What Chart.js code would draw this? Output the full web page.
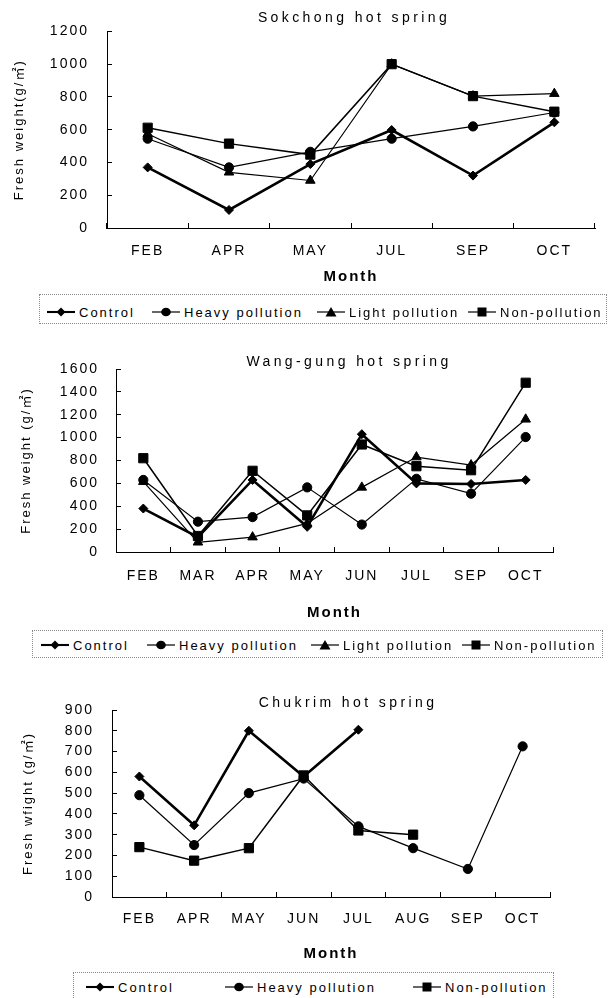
<!DOCTYPE html>
<html>
<head>
<meta charset="utf-8">
<script src="https://cdn.jsdelivr.net/npm/chart.js@4.4.1/dist/chart.umd.min.js"></script>
<style>
  body { margin: 0; background: #fff; width: 611px; height: 998px; overflow: hidden; position: relative;
         font-family: "Liberation Sans", Arial, "Noto Sans CJK KR", sans-serif; color: #000; }
  canvas { position: absolute; left: 0; }
  .title { position: absolute; font-size: 14px; letter-spacing: 3.4px; line-height: 16px; white-space: nowrap; transform: translateX(-50%); }
  .legend { position: absolute; border: 1px dotted #8a8a8a; box-sizing: border-box; }
  .item { position: absolute; display: flex; align-items: center; height: 16px; font-size: 13px; letter-spacing: 2px; white-space: nowrap; }
  .item svg { margin-right: 4px; }
</style>
</head>
<body>
<canvas id="chart1" width="611" height="290" style="top:0px"></canvas>
<canvas id="chart2" width="611" height="298" style="top:330px"></canvas>
<canvas id="chart3" width="611" height="300" style="top:670px"></canvas>
<div class="title" style="left:354px; top:9px">Sokchong hot spring</div>
<div class="title" style="left:349px; top:353px">Wang-gung hot spring</div>
<div class="title" style="left:348px; top:694px">Chukrim hot spring</div>
<script>
// Sokchong
const months1 = ["FEB", "APR", "MAY", "JUL", "SEP", "OCT"];
const control1 = [370, 110, 390, 598, 320, 645];
const heavy1 = [545, 370, 465, 545, 620, 705];
const light1 = [575, 340, 290, 1000, 805, 820];
const non1 = [612, 515, 448, 1000, 805, 710];

// Wang-gung
const months2 = ["FEB", "MAR", "APR", "MAY", "JUN", "JUL", "SEP", "OCT"];
const control2 = [380, 130, 630, 220, 1030, 600, 595, 630];
const heavy2 = [630, 265, 305, 565, 240, 640, 510, 1005];
const light2 = [615, 85, 130, 250, 565, 830, 760, 1160];
const non2 = [820, 140, 710, 320, 940, 750, 715, 1480];

// Chukrim (no samples after JUL / AUG for some groups)
const months3 = ["FEB", "APR", "MAY", "JUN", "JUL", "AUG", "SEP", "OCT"];
const control3 = [580, 345, 800, 580, 805, null, null, null];
const heavy3 = [490, 250, 500, 570, 340, 235, 135, 725];
const non3 = [240, 175, 235, 585, 320, 300, null, null];

const FONT = "'Liberation Sans', Arial, 'Noto Sans CJK KR', sans-serif";

const styles = {
    "Control": { pointStyle: "rectRot", radius: 4.5, width: 2.6, order: 3 },
    "Heavy pollution": { pointStyle: "circle", radius: 4.6, width: 1.2, order: 2 },
    "Light pollution": { pointStyle: "triangle", radius: 5.5, width: 1.2, order: 1 },
    "Non-pollution": { pointStyle: "rect", radius: 6.5, width: 1.5, order: 0 }
};

// canvas text in the scan is widely spaced
const spacing = {
    id: "spacing",
    beforeLayout(chart) { chart.ctx.letterSpacing = "2px"; },
    beforeDraw(chart) { chart.ctx.letterSpacing = "2px"; }
};

function ds(name, data) {
    const s = styles[name];
    return {
        label: name,
        data: data,
        borderColor: "#000",
        backgroundColor: "#000",
        borderWidth: s.width,
        pointStyle: s.pointStyle,
        pointRadius: s.radius,
        pointHoverRadius: s.radius,
        pointBorderWidth: 1,
        pointBackgroundColor: "#000",
        pointBorderColor: "#000",
        tension: 0,
        spanGaps: false,
        order: s.order
    };
}

function makeChart(id, labels, datasets, cfg) {
    return new Chart(document.getElementById(id), {
        type: "line",
        data: { labels: labels, datasets: datasets },
        options: {
            responsive: false,
            animation: false,
            events: [],
            layout: { padding: { top: cfg.top, right: cfg.right, left: 0, bottom: 0 } },
            plugins: { legend: { display: false }, tooltip: { enabled: false } },
            scales: {
                x: {
                    type: "category",
                    offset: true,
                    grid: { display: true, offset: true, drawOnChartArea: false, drawTicks: true, tickLength: -5, color: "#000", lineWidth: 1 },
                    border: { display: true, color: "#000", width: 1 },
                    ticks: { color: "#000", font: { family: FONT, size: 14 }, padding: cfg.xPad, maxRotation: 0, autoSkip: false },
                    title: { display: true, text: "Month", color: "#000", font: { family: FONT, size: 15, weight: "bold" }, padding: { top: 0, bottom: cfg.monthPad } },
                    afterFit: (s) => { s.height = cfg.xHeight; }
                },
                y: {
                    min: 0,
                    max: cfg.max,
                    grid: { display: true, drawOnChartArea: false, drawTicks: true, tickLength: -5, color: "#000", lineWidth: 1 },
                    border: { display: true, color: "#000", width: 1 },
                    ticks: { stepSize: cfg.step, color: "#000", font: { family: FONT, size: 14 }, padding: cfg.yPad,
                             callback: (v) => String(v) },
                    title: { display: true, text: cfg.yTitle, color: "#000", font: { family: FONT, size: 13 }, padding: { top: cfg.yTitlePad, bottom: 0 } },
                    afterFit: (s) => { s.width = cfg.yWidth; }
                }
            }
        },
        plugins: [spacing]
    });
}

makeChart("chart1", months1, [
    ds("Control", control1), ds("Heavy pollution", heavy1), ds("Light pollution", light1), ds("Non-pollution", non1)
], { top: 23, right: 16, yWidth: 107, xHeight: 62, max: 1200, step: 200, yPad: 23, xPad: 20, monthPad: 4, yTitlePad: 12, yTitle: "Fresh weight(g/㎡)" });

makeChart("chart2", months2, [
    ds("Control", control2), ds("Heavy pollution", heavy2), ds("Light pollution", light2), ds("Non-pollution", non2)
], { top: 39, right: 58, yWidth: 116, xHeight: 76, max: 1600, step: 200, yPad: 22, xPad: 21, monthPad: 6, yTitlePad: 19, yTitle: "Fresh weight (g/㎡)" });

makeChart("chart3", months3, [
    ds("Control", control3), ds("Heavy pollution", heavy3), ds("Non-pollution", non3)
], { top: 40, right: 61, yWidth: 112, xHeight: 73, max: 900, step: 100, yPad: 23, xPad: 19, monthPad: 7, yTitlePad: 21, yTitle: "Fresh wfight (g/㎡)" });

// HTML legends: line + marker icon, then the label
function icon(name) {
    const s = styles[name];
    let mark = "";
    if (s.pointStyle === "rectRot") mark = '<polygon points="14,1.5 18.5,6 14,10.5 9.5,6"/>';
    if (s.pointStyle === "circle") mark = '<ellipse cx="14" cy="6" rx="4.8" ry="4.3"/>';
    if (s.pointStyle === "triangle") mark = '<polygon points="14,1 19.5,10.5 8.5,10.5"/>';
    if (s.pointStyle === "rect") mark = '<rect x="9.5" y="1.5" width="9" height="9"/>';
    return '<svg width="28" height="12" viewBox="0 0 28 12"><line x1="0" y1="6" x2="28" y2="6" stroke="#000" stroke-width="' +
        Math.max(1.2, s.width - 0.5) + '"/><g fill="#000">' + mark + '</g></svg>';
}

const legends = [
    { left: 39, top: 294, width: 568, height: 30, textY: 312, items: [47, 152, 317, 468],
      names: ["Control", "Heavy pollution", "Light pollution", "Non-pollution"] },
    { left: 32, top: 630, width: 571, height: 28, textY: 645, items: [41, 147, 311, 462],
      names: ["Control", "Heavy pollution", "Light pollution", "Non-pollution"] },
    { left: 73, top: 972, width: 481, height: 40, textY: 987, items: [86, 225, 413],
      names: ["Control", "Heavy pollution", "Non-pollution"] }
];

legends.forEach(function (lg) {
    const box = document.createElement("div");
    box.className = "legend";
    box.style.left = lg.left + "px";
    box.style.top = lg.top + "px";
    box.style.width = lg.width + "px";
    box.style.height = lg.height + "px";
    document.body.appendChild(box);
    lg.names.forEach(function (name, i) {
        const it = document.createElement("div");
        it.className = "item";
        it.style.left = lg.items[i] + "px";
        it.style.top = (lg.textY - 8) + "px";
        it.innerHTML = icon(name) + "<span>" + name + "</span>";
        document.body.appendChild(it);
    });
});
</script>
</body>
</html>
